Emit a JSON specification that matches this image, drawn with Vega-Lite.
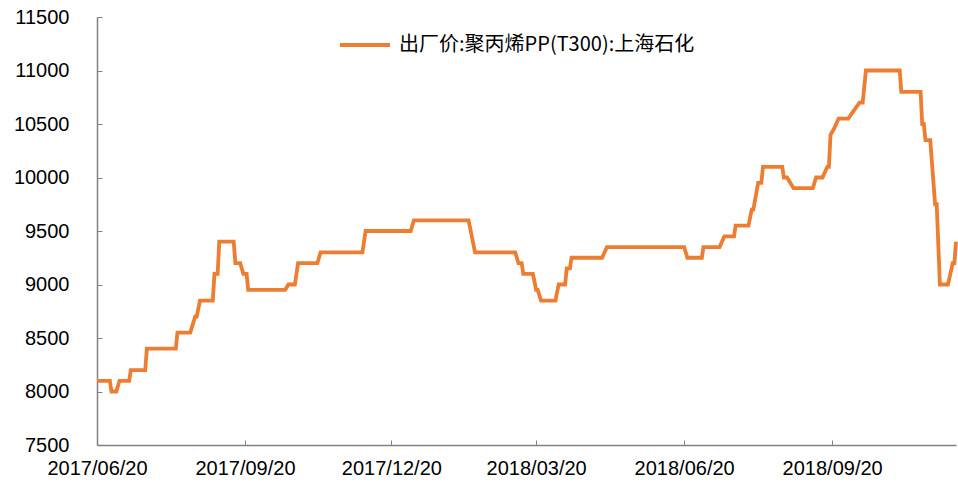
{
  "$schema": "https://vega.github.io/schema/vega-lite/v6.json",
  "width": 859,
  "height": 428,
  "autosize": {"type": "none"},
  "padding": {"left": 97, "top": 17, "right": 2, "bottom": 42},
  "background": "white",
  "config": {"view": {"stroke": null}},
  "data": {"values": [
    {"date": "2017-06-20", "price": 8100},
    {"date": "2017-06-28", "price": 8100},
    {"date": "2017-06-29", "price": 8000},
    {"date": "2017-07-02", "price": 8000},
    {"date": "2017-07-04", "price": 8100},
    {"date": "2017-07-10", "price": 8100},
    {"date": "2017-07-11", "price": 8200},
    {"date": "2017-07-20", "price": 8200},
    {"date": "2017-07-21", "price": 8400},
    {"date": "2017-08-08", "price": 8400},
    {"date": "2017-08-09", "price": 8550},
    {"date": "2017-08-17", "price": 8550},
    {"date": "2017-08-20", "price": 8700},
    {"date": "2017-08-21", "price": 8700},
    {"date": "2017-08-23", "price": 8850},
    {"date": "2017-08-31", "price": 8850},
    {"date": "2017-09-01", "price": 9100},
    {"date": "2017-09-03", "price": 9100},
    {"date": "2017-09-04", "price": 9400},
    {"date": "2017-09-13", "price": 9400},
    {"date": "2017-09-14", "price": 9200},
    {"date": "2017-09-17", "price": 9200},
    {"date": "2017-09-19", "price": 9100},
    {"date": "2017-09-21", "price": 9100},
    {"date": "2017-09-22", "price": 8950},
    {"date": "2017-10-15", "price": 8950},
    {"date": "2017-10-17", "price": 9000},
    {"date": "2017-10-21", "price": 9000},
    {"date": "2017-10-23", "price": 9200},
    {"date": "2017-11-04", "price": 9200},
    {"date": "2017-11-06", "price": 9300},
    {"date": "2017-12-02", "price": 9300},
    {"date": "2017-12-04", "price": 9500},
    {"date": "2018-01-01", "price": 9500},
    {"date": "2018-01-03", "price": 9600},
    {"date": "2018-02-06", "price": 9600},
    {"date": "2018-02-08", "price": 9450},
    {"date": "2018-02-10", "price": 9300},
    {"date": "2018-03-07", "price": 9300},
    {"date": "2018-03-09", "price": 9200},
    {"date": "2018-03-11", "price": 9200},
    {"date": "2018-03-12", "price": 9100},
    {"date": "2018-03-18", "price": 9100},
    {"date": "2018-03-20", "price": 8950},
    {"date": "2018-03-21", "price": 8950},
    {"date": "2018-03-23", "price": 8850},
    {"date": "2018-04-01", "price": 8850},
    {"date": "2018-04-03", "price": 9000},
    {"date": "2018-04-07", "price": 9000},
    {"date": "2018-04-08", "price": 9150},
    {"date": "2018-04-10", "price": 9150},
    {"date": "2018-04-11", "price": 9250},
    {"date": "2018-04-30", "price": 9250},
    {"date": "2018-05-03", "price": 9350},
    {"date": "2018-06-20", "price": 9350},
    {"date": "2018-06-22", "price": 9250},
    {"date": "2018-07-01", "price": 9250},
    {"date": "2018-07-02", "price": 9350},
    {"date": "2018-07-12", "price": 9350},
    {"date": "2018-07-15", "price": 9450},
    {"date": "2018-07-21", "price": 9450},
    {"date": "2018-07-22", "price": 9550},
    {"date": "2018-07-30", "price": 9550},
    {"date": "2018-08-01", "price": 9700},
    {"date": "2018-08-02", "price": 9700},
    {"date": "2018-08-05", "price": 9950},
    {"date": "2018-08-07", "price": 9950},
    {"date": "2018-08-08", "price": 10100},
    {"date": "2018-08-20", "price": 10100},
    {"date": "2018-08-21", "price": 10000},
    {"date": "2018-08-23", "price": 10000},
    {"date": "2018-08-27", "price": 9900},
    {"date": "2018-09-08", "price": 9900},
    {"date": "2018-09-10", "price": 10000},
    {"date": "2018-09-14", "price": 10000},
    {"date": "2018-09-17", "price": 10100},
    {"date": "2018-09-18", "price": 10100},
    {"date": "2018-09-19", "price": 10400},
    {"date": "2018-09-21", "price": 10450},
    {"date": "2018-09-24", "price": 10550},
    {"date": "2018-09-30", "price": 10550},
    {"date": "2018-10-07", "price": 10700},
    {"date": "2018-10-09", "price": 10700},
    {"date": "2018-10-11", "price": 11000},
    {"date": "2018-11-01", "price": 11000},
    {"date": "2018-11-02", "price": 10800},
    {"date": "2018-11-14", "price": 10800},
    {"date": "2018-11-15", "price": 10500},
    {"date": "2018-11-16", "price": 10500},
    {"date": "2018-11-17", "price": 10350},
    {"date": "2018-11-20", "price": 10350},
    {"date": "2018-11-21", "price": 10150},
    {"date": "2018-11-23", "price": 9750},
    {"date": "2018-11-24", "price": 9750},
    {"date": "2018-11-26", "price": 9000},
    {"date": "2018-12-01", "price": 9000},
    {"date": "2018-12-04", "price": 9200},
    {"date": "2018-12-05", "price": 9200},
    {"date": "2018-12-06", "price": 9400}
  ]},
  "mark": {"type": "line", "strokeWidth": 3.8, "interpolate": "linear", "clip": false},
  "encoding": {
    "x": {
      "field": "date",
      "type": "temporal",
      "scale": {
        "type": "utc",
        "domain": [
          {"year": 2017, "month": 6, "date": 20, "utc": true},
          {"year": 2018, "month": 12, "date": 6, "utc": true}
        ],
        "nice": false
      },
      "axis": {
        "title": null,
        "values": [
          {"year": 2017, "month": 6, "date": 20, "utc": true},
          {"year": 2017, "month": 9, "date": 20, "utc": true},
          {"year": 2017, "month": 12, "date": 20, "utc": true},
          {"year": 2018, "month": 3, "date": 20, "utc": true},
          {"year": 2018, "month": 6, "date": 20, "utc": true},
          {"year": 2018, "month": 9, "date": 20, "utc": true}
        ],
        "labelExpr": "utcFormat(datum.value, '%Y/%m/%d')",
        "grid": false,
        "domainColor": "#808080",
        "domainWidth": 1.5,
        "tickColor": "#808080",
        "tickSize": -5,
        "labelPadding": 18,
        "labelFont": "Liberation Sans",
        "labelFontSize": 20,
        "labelColor": "#000000",
        "labelAlign": "center",
        "labelOverlap": false,
        "labelFlush": false
      }
    },
    "y": {
      "field": "price",
      "type": "quantitative",
      "scale": {"domain": [7500, 11500], "nice": false, "zero": false},
      "axis": {
        "title": null,
        "values": [7500, 8000, 8500, 9000, 9500, 10000, 10500, 11000, 11500],
        "format": "d",
        "grid": false,
        "domainColor": "#808080",
        "domainWidth": 1.5,
        "tickColor": "#808080",
        "tickSize": -5,
        "labelPadding": 33,
        "labelFont": "Liberation Sans",
        "labelFontSize": 20,
        "labelColor": "#000000",
        "labelOverlap": false
      }
    },
    "color": {
      "datum": "出厂价:聚丙烯PP(T300):上海石化",
      "type": "nominal",
      "scale": {"range": ["#ED7D31"]},
      "legend": {
        "title": null,
        "orient": "none",
        "legendX": 241,
        "legendY": 1,
        "symbolType": "stroke",
        "symbolStrokeWidth": 4,
        "symbolSize": 2500,
        "labelFont": "Noto Sans CJK SC",
        "labelFontSize": 20,
        "labelColor": "#000000",
        "labelOffset": 7,
        "labelLimit": 500
      }
    }
  }
}
